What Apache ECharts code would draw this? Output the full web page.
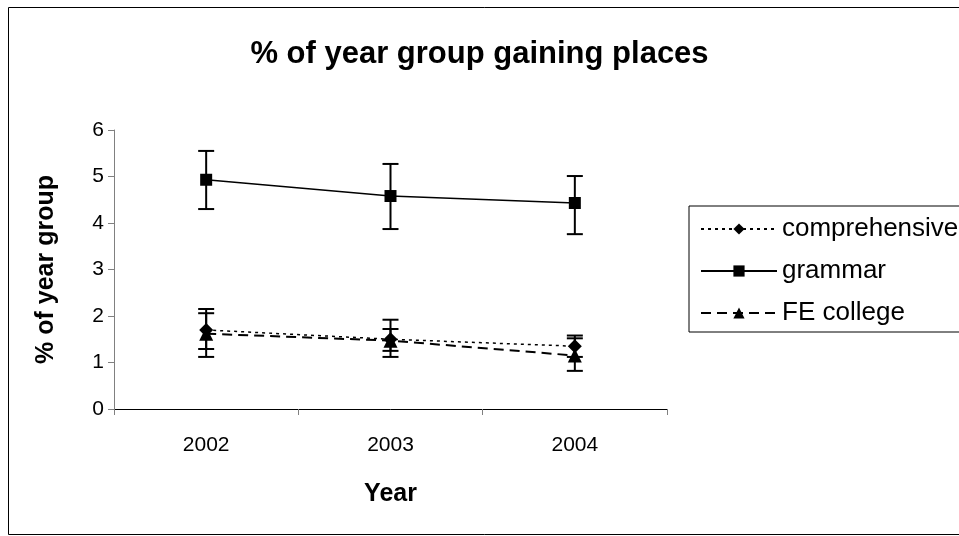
<!DOCTYPE html>
<html>
<head>
<meta charset="utf-8">
<script src="https://cdn.jsdelivr.net/npm/echarts@6/dist/echarts.min.js"></script>
<style>html,body{margin:0;padding:0;background:#fff;}#c{width:959px;height:536px;}</style>
</head>
<body>
<div id="c"></div>
<script>
const years = ['2002', '2003', '2004'];
const comprehensive = [1.70, 1.50, 1.35];
const comprehensiveLow = [1.29, 1.25, 1.12];
const comprehensiveHigh = [2.06, 1.72, 1.58];
const grammar = [4.93, 4.58, 4.43];
const grammarLow = [4.30, 3.87, 3.76];
const grammarHigh = [5.55, 5.27, 5.01];
const feCollege = [1.62, 1.47, 1.15];
const feCollegeLow = [1.12, 1.12, 0.82];
const feCollegeHigh = [2.15, 1.92, 1.52];
const yTicks = [0, 1, 2, 3, 4, 5, 6];

const FONT = 'Liberation Sans, Arial, sans-serif';

function errData(lo, hi) {
  return years.map((y, i) => [i, lo[i], hi[i]]);
}
function errRender(params, api) {
  const x = api.value(0);
  const lo = api.coord([x, api.value(1)]);
  const hi = api.coord([x, api.value(2)]);
  const h = 8;
  const st = { stroke: '#000', lineWidth: 2 };
  return {
    type: 'group',
    children: [
      { type: 'line', shape: { x1: lo[0], y1: lo[1], x2: hi[0], y2: hi[1] }, style: st },
      { type: 'line', shape: { x1: lo[0] - h, y1: lo[1], x2: lo[0] + h, y2: lo[1] }, style: st },
      { type: 'line', shape: { x1: hi[0] - h, y1: hi[1], x2: hi[0] + h, y2: hi[1] }, style: st }
    ]
  };
}
function errSeries(lo, hi) {
  return {
    type: 'custom', renderItem: errRender, data: errData(lo, hi),
    z: 3, silent: true, encode: { x: 0, y: [1, 2] }
  };
}

const chart = echarts.init(document.getElementById('c'), null, { renderer: 'canvas' });
chart.setOption({
  animation: false,
  backgroundColor: '#fff',
  textStyle: { fontFamily: FONT },
  title: {
    text: '% of year group gaining places',
    left: 'center', top: 34,
    textStyle: { fontFamily: FONT, fontSize: 31, fontWeight: 'bold', color: '#000' }
  },
  graphic: [{
    type: 'rect', shape: { x: 8.5, y: 7.5, width: 960, height: 527 },
    style: { fill: 'none', stroke: '#000', lineWidth: 1 }, silent: true
  }],
  legend: {
    data: ['comprehensive', 'grammar', 'FE college'],
    orient: 'vertical', left: 689, top: 206,
    padding: [10, 12, 6, 11], itemGap: 16,
    itemWidth: 76, itemHeight: 14,
    borderColor: '#000', borderWidth: 1,
    textStyle: { fontFamily: FONT, fontSize: 26, color: '#000' }
  },
  grid: { left: 114, right: 292, top: 130, bottom: 127, containLabel: false },
  xAxis: {
    type: 'category', data: years, boundaryGap: true,
    name: 'Year', nameLocation: 'middle', nameGap: 73,
    nameTextStyle: { fontFamily: FONT, fontSize: 25, fontWeight: 'bold', color: '#000' },
    axisLine: { lineStyle: { color: '#000', width: 1 } },
    axisTick: { show: true, length: 6, lineStyle: { color: '#808080', width: 1 } },
    axisLabel: { fontFamily: FONT, fontSize: 21, color: '#000', margin: 26 },
    splitLine: { show: false }
  },
  yAxis: {
    type: 'value', min: 0, max: 6, interval: 1,
    name: '% of year group', nameLocation: 'middle', nameGap: 55, nameRotate: 90,
    nameTextStyle: { fontFamily: FONT, fontSize: 25, fontWeight: 'bold', color: '#000' },
    axisLine: { show: true, lineStyle: { color: '#808080', width: 1 } },
    axisTick: { show: true, length: 6, lineStyle: { color: '#808080', width: 1 } },
    axisLabel: { fontFamily: FONT, fontSize: 21, color: '#000', margin: 10,
      formatter: v => yTicks.includes(v) ? String(v) : '' },
    splitLine: { show: false }
  },
  series: [
    {
      name: 'comprehensive', type: 'line', data: comprehensive, z: 4,
      symbol: 'diamond', symbolSize: 14,
      itemStyle: { color: '#000' },
      lineStyle: { color: '#000', width: 1.5, type: [3, 4] }
    },
    {
      name: 'grammar', type: 'line', data: grammar, z: 4,
      symbol: 'rect', symbolSize: 12,
      itemStyle: { color: '#000' },
      lineStyle: { color: '#000', width: 1.5, type: 'solid' }
    },
    {
      name: 'FE college', type: 'line', data: feCollege, z: 4,
      symbol: 'triangle', symbolSize: 14,
      itemStyle: { color: '#000' },
      lineStyle: { color: '#000', width: 2, type: [10, 6] }
    },
    errSeries(comprehensiveLow, comprehensiveHigh),
    errSeries(grammarLow, grammarHigh),
    errSeries(feCollegeLow, feCollegeHigh)
  ]
});
</script>
</body>
</html>
